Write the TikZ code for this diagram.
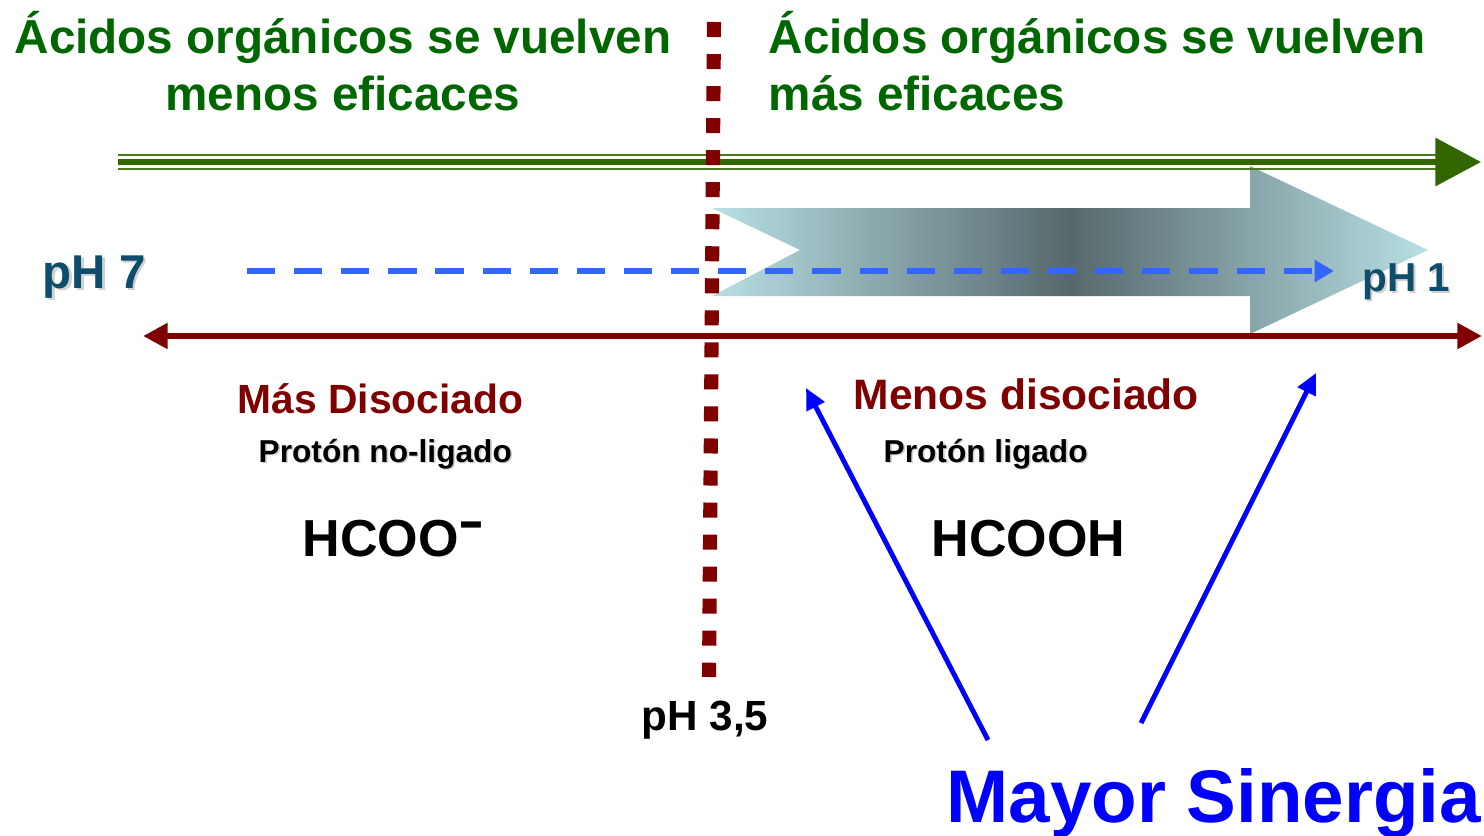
\documentclass[tikz,border=0pt]{standalone}
\usepackage{fontspec}
\setmainfont{Liberation Sans}
\usetikzlibrary{arrows.meta}

\definecolor{acidgreen}{RGB}{0,102,0}
\definecolor{olivegreen}{RGB}{51,102,0}
\definecolor{linegreen}{RGB}{74,122,31}
\definecolor{maroon}{RGB}{128,0,0}
\definecolor{phteal}{RGB}{14,78,108}
\definecolor{dashblue}{RGB}{51,102,255}
\definecolor{synblue}{RGB}{0,0,255}
\definecolor{shadelight}{RGB}{184,224,228}
\definecolor{shadedark}{RGB}{86,104,108}

\newcommand{\txtshadow}[1]{\makebox[0pt][l]{\kern0.05em\raisebox{-0.05em}{\textcolor{black!18}{#1}}}#1}

\tikzset{
  every node/.style={inner sep=0pt},
  headline/.style={text=acidgreen, font=\bfseries\fontsize{13.55}{16.2}\selectfont},
  phlabel/.style={text=phteal, font=\bfseries\fontsize{13.5}{16}\selectfont},
  statelabel/.style={text=maroon, font=\bfseries\fontsize{11.6}{14}\selectfont},
  protonlabel/.style={text=black, font=\bfseries\fontsize{9}{11}\selectfont},
  formula/.style={text=black, font=\bfseries\fontsize{14.8}{17}\selectfont},
  greenline/.style={linegreen, line width=0.7pt},
  synarrow/.style={synblue, line width=1.4pt, -{Triangle[length=6pt,width=5.5pt]}}
}

\begin{document}
\begin{tikzpicture}[x=0.01cm, y=-0.01cm]
\useasboundingbox (0,0) rectangle (1484,836);

% big shaded arrow
\shade[left color=shadelight, right color=shadelight, middle color=shadedark] (712,208) -- (1250,208) -- (1250,166) -- (1428,250) -- (1250,334) -- (1250,296) -- (712,296) -- (800,250) -- cycle;

% green scale arrow
\coordinate (gstart) at (118,162);
\coordinate (gbase) at (1436,162);
\coordinate (gend) at (1481,162);
\draw[greenline] ([yshift=2pt]gstart) -- ([yshift=2pt]gbase);
\draw[greenline] ([yshift=-2pt]gstart) -- ([yshift=-2pt]gbase);
\draw[olivegreen, line width=1.5pt, -{Triangle[length=13pt,width=13.5pt]}] (gstart) -- (gend);

% pH scale
\node[phlabel, anchor=base west] (ph7) at (42,288) {\txtshadow{pH 7}};
\node[phlabel, font=\bfseries\fontsize{11.5}{14}\selectfont, anchor=base west] (ph1) at (1362,291) {\txtshadow{pH 1}};
\coordinate (dstart) at (247,271);
\coordinate (dend) at (1334,271);
\draw[dashblue, line width=1.9pt, dash pattern=on 8pt off 5.4pt, -{Triangle[length=5.5pt,width=6pt]}] (dstart) -- (dend);

% dissociation arrow
\coordinate (rleft) at (143,336);
\coordinate (rright) at (1482,336);
\draw[maroon, line width=1.8pt, {Triangle[length=7pt,width=7pt]}-{Triangle[length=7pt,width=7pt]}] (rleft) -- (rright);

% pKa divider
\coordinate (divtop) at (714,22);
\coordinate (divbot) at (709,677);
\draw[maroon, line width=4pt, dash pattern=on 4.27pt off 4.84pt] (divtop) -- (divbot);
\node[font=\bfseries\fontsize{12}{14}\selectfont, anchor=base] (ph35) at (705,730) {pH 3,5};

% headlines
\node[headline, align=center, anchor=base] (lefttitle) at (343,110) {Ácidos orgánicos se vuelven\\menos eficaces};
\node[headline, align=left, anchor=base west] (righttitle) at (768,110) {Ácidos orgánicos se vuelven\\más eficaces};

% both sides
\node[statelabel, anchor=base west] (masdis) at (237,413) {Más Disociado};
\node[statelabel, font=\bfseries\fontsize{12.1}{14}\selectfont, anchor=base west] (menosdis) at (853,409) {Menos disociado};
\node[protonlabel, anchor=base west] (noligado) at (258,462) {\txtshadow{Protón no-ligado}};
\node[protonlabel, anchor=base west] (ligado) at (883,462) {\txtshadow{Protón ligado}};
\node[formula, anchor=base west] (formate) at (302,556) {HCOO\raisebox{0.34em}{\scalebox{1.5}[1]{-}}};
\node[formula, anchor=base west] (formic) at (931,556) {HCOOH};

% synergy
\node[text=synblue, font=\bfseries\fontsize{21.2}{25}\selectfont, anchor=base west] (sinergia) at (946,822) {Mayor Sinergia};
\coordinate (synleft) at (988,740);
\coordinate (tipleft) at (806,388);
\coordinate (synright) at (1141,723);
\coordinate (tipright) at (1316,373);
\draw[synarrow] (synleft) -- (tipleft);
\draw[synarrow] (synright) -- (tipright);
\end{tikzpicture}
\end{document}
